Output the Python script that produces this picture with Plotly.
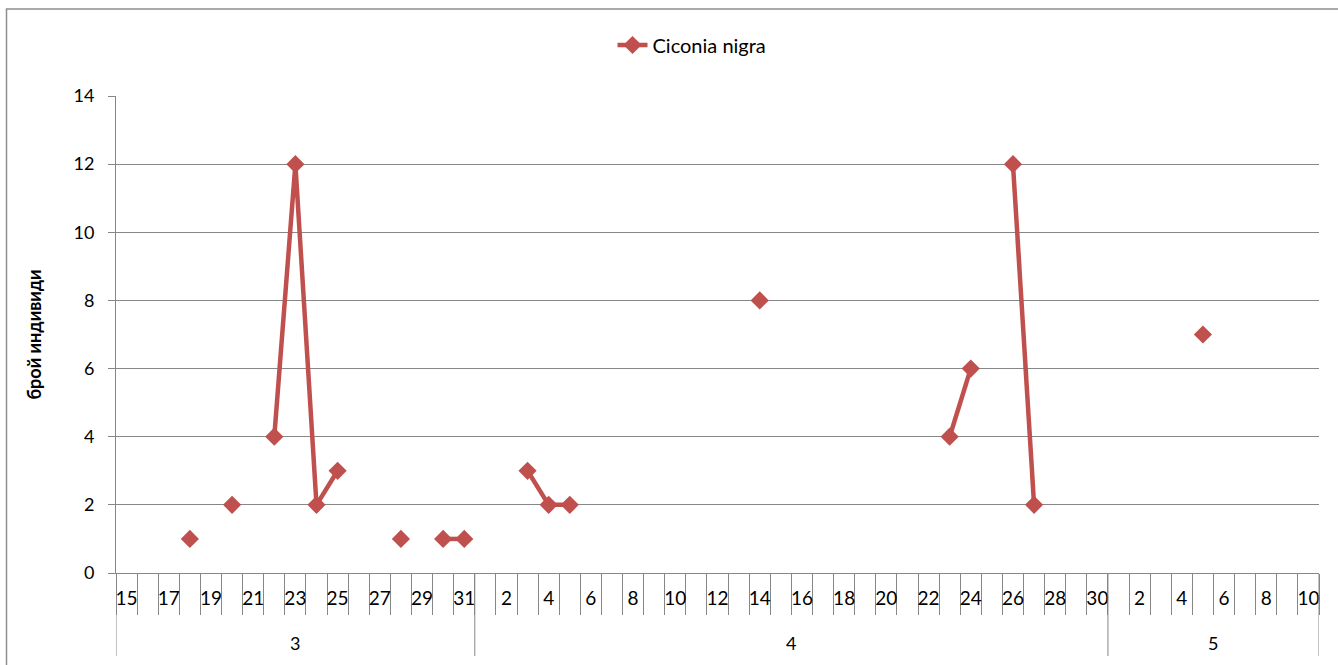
import plotly.graph_objects as go

# Observation calendar: month number with the first and last recorded day
months = [3, 4, 5]
first_day = [15, 1, 1]
last_day = [31, 30, 10]

# Days on which Ciconia nigra was recorded and the number of birds
obs_month = [3, 3, 3, 3, 3, 3, 3, 3, 3, 4, 4, 4, 4, 4, 4, 4, 4, 5]
obs_day = [18, 20, 22, 23, 24, 25, 28, 30, 31, 3, 4, 5, 14, 23, 24, 26, 27, 5]
obs_count = [1, 2, 4, 12, 2, 3, 1, 1, 1, 3, 2, 2, 8, 4, 6, 12, 2, 7]

y_ticks = [0, 2, 4, 6, 8, 10, 12, 14]

series_name = "Ciconia nigra"
y_title = "брой индивиди"

# ---- build the day-by-day category sequence ----
cat_month, cat_day = [], []
for m, d0, d1 in zip(months, first_day, last_day):
    for d in range(d0, d1 + 1):
        cat_month.append(m)
        cat_day.append(d)
n_cat = len(cat_day)
x_idx = list(range(n_cat))

counts = [None] * n_cat
for m, d, c in zip(obs_month, obs_day, obs_count):
    start = cat_month.index(m)
    counts[start + cat_day[start:].index(d)] = c

# month groups: start index and length
group_start, group_len = [], []
for m in months:
    group_start.append(cat_month.index(m))
    group_len.append(cat_month.count(m))
month_bounds = [s - 0.5 for s in group_start] + [n_cat - 0.5]

# ---- page geometry ----
W, H = 1338, 665
PL, PR, PT, PB = 116, 1319, 96, 573
pw, ph = PR - PL, PB - PT


def px_x(p):
    return (p - PL) / pw


def px_y(p):
    return (PB - p) / ph


RED = "#C0504D"
GRID = "#878787"
FONT = "Lato, 'Open Sans', sans-serif"

fig = go.Figure()
fig.add_trace(go.Scatter(
    x=x_idx, y=counts, name=series_name, mode="lines+markers",
    connectgaps=False,
    line=dict(color=RED, width=4.5),
    marker=dict(symbol="diamond", size=14, color=RED, line=dict(width=0)),
))

fig.update_layout(
    width=W, height=H,
    margin=dict(l=PL, r=W - PR, t=PT, b=H - PB, autoexpand=False),
    paper_bgcolor="white", plot_bgcolor="white",
    font=dict(family=FONT, size=18, color="black"),
    showlegend=True,
    legend=dict(orientation="h", x=px_x(692), xanchor="center",
                y=px_y(45), yanchor="middle", font=dict(size=20),
                bgcolor="rgba(0,0,0,0)"),
    xaxis=dict(range=[-0.5, n_cat - 0.5], showgrid=False, zeroline=False,
               showline=True, linecolor=GRID, linewidth=1,
               # day labels on every other day
               tickmode="array",
               tickvals=[i for i in x_idx if i % 2 == 0],
               ticktext=[str(cat_day[i]) for i in x_idx if i % 2 == 0],
               ticks="", ticklabelstandoff=8, tickfont=dict(size=19),
               # boundary tick between every pair of days
               minor=dict(tickmode="array",
                          tickvals=[i - 0.5 for i in range(n_cat + 1)],
                          ticks="outside", ticklen=41, tickcolor=GRID,
                          tickwidth=1, showgrid=False),
               fixedrange=True),
    yaxis=dict(range=[0, 14], tickmode="array", tickvals=y_ticks,
               showgrid=True, gridcolor=GRID, gridwidth=1, zeroline=False,
               showline=True, linecolor=GRID, linewidth=1,
               ticks="outside", ticklen=7, tickcolor=GRID,
               ticklabelstandoff=10, tickfont=dict(size=18),
               title=dict(text="<b>" + y_title + "</b>", font=dict(size=18),
                          standoff=27),
               fixedrange=True),
)

# month group dividers and labels under the day labels
for b in month_bounds:
    fig.add_shape(type="line", xref="x", yref="paper",
                  x0=b, x1=b, y0=px_y(656), y1=0,
                  line=dict(color=GRID, width=1))
for m, s, L in zip(months, group_start, group_len):
    fig.add_annotation(x=s + (L - 1) / 2, y=0, xref="x", yref="paper",
                       text=str(m), showarrow=False, yanchor="middle",
                       yshift=-70, font=dict(size=18))

# chart frame
fig.add_shape(type="rect", xref="paper", yref="paper",
              x0=px_x(6.5), x1=px_x(W + 5), y0=px_y(H + 5), y1=px_y(9),
              line=dict(color="#8E8E8E", width=1.5), fillcolor="rgba(0,0,0,0)",
              layer="below")

fig.write_html("out.html")
